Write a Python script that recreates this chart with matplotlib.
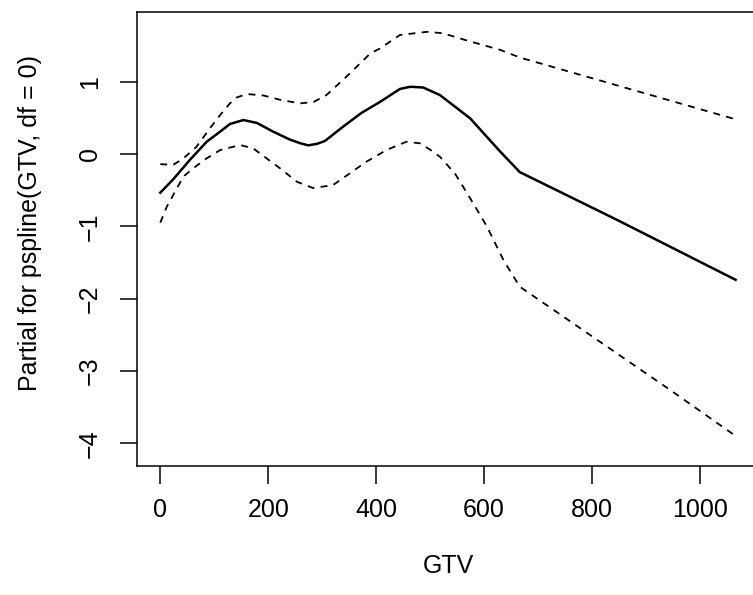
import matplotlib
matplotlib.use("Agg")
import matplotlib.pyplot as plt

plt.rcParams['font.family'] = ['Liberation Sans', 'DejaVu Sans']
plt.rcParams['lines.scale_dashes'] = False

# fitted term and its confidence band
gtv_fit = [0, 24, 55, 86, 111, 129, 154, 179, 209, 240, 259, 274, 290, 305, 339, 373, 407,
           444, 463, 487, 518, 574, 630, 666, 846, 1066]
fit = [-0.535, -0.35, -0.08, 0.17, 0.31, 0.415, 0.47, 0.43, 0.31, 0.20, 0.15, 0.12, 0.14, 0.18,
       0.38, 0.57, 0.72, 0.90, 0.93, 0.92, 0.816, 0.494, 0.032, -0.25, -0.91, -1.74]

gtv_upper = [0, 24, 43, 67, 92, 111, 129, 141, 160, 191, 222, 259, 284, 308, 345, 389, 407,
             444, 494, 524, 568, 630, 666, 963, 1066]
upper = [-0.14, -0.15, -0.06, 0.10, 0.355, 0.54, 0.70, 0.78, 0.83, 0.81, 0.75, 0.70, 0.72, 0.816,
         1.07, 1.39, 1.46, 1.646, 1.69, 1.67, 1.57, 1.44, 1.335, 0.70, 0.48]

gtv_lower = [0, 12, 24, 43, 61, 86, 111, 148, 172, 197, 222, 253, 283, 320, 382, 419, 456, 481,
             500, 518, 546, 574, 605, 636, 666, 944, 1066]
lower = [-0.95, -0.73, -0.567, -0.31, -0.198, -0.06, 0.055, 0.124, 0.079, -0.06, -0.198, -0.383,
         -0.47, -0.43, -0.106, 0.055, 0.17, 0.148, 0.06, -0.037, -0.27, -0.61, -1.0, -1.47, -1.835,
         -3.26, -3.90]

xticks = [0, 200, 400, 600, 800, 1000]
yticks = [-4, -3, -2, -1, 0, 1]

fs = 18

fig = plt.figure(figsize=(7.53, 5.95), dpi=100)
# the reference is cropped on the right, so the box runs off the figure
ax = fig.add_axes([0.1823, 0.2173, 0.8252, 0.7625])

ax.plot(gtv_fit, fit, color="black", linewidth=1.8)
l1, = ax.plot(gtv_upper, upper, color="black", linewidth=1.3)
l2, = ax.plot(gtv_lower, lower, color="black", linewidth=1.3)
for l in (l1, l2):
    l.set_dashes([5.0, 4.5])

ax.set_xlim(-42.6, 1108.6)
ax.set_ylim(-4.311, 1.964)

ax.set_xticks(xticks)
ax.set_yticks(yticks)
ax.set_xticklabels([str(v) for v in xticks])
ax.set_yticklabels([str(v).replace('-', '\u2212') for v in yticks], rotation=90, va='center')

for s in ax.spines.values():
    s.set_linewidth(1.1)
ax.tick_params(axis='both', length=12.6, width=1.1, labelsize=fs)
ax.tick_params(axis='x', pad=11)
ax.tick_params(axis='y', pad=13)

ax.set_xlabel("GTV", fontsize=fs, va='center')
ax.xaxis.set_label_coords(0.5, -0.221)
ax.set_ylabel("Partial for pspline(GTV, df = 0)", fontsize=fs, va='center')
ax.yaxis.set_label_coords(-0.172, 0.535)

fig.savefig("out.png", dpi=100)
